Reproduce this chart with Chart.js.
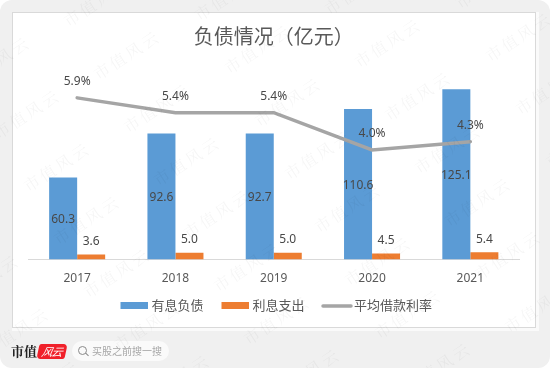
<!DOCTYPE html>
<html>
<head>
<meta charset="utf-8">
<script src="https://cdn.jsdelivr.net/npm/chart.js@4"></script>
<style>
  html, body { margin: 0; padding: 0; background: #fff; }
  body { width: 550px; height: 368px; overflow: hidden; position: relative; font-family: "Noto Sans CJK SC", sans-serif; }
  #frame { position: absolute; left: 0; top: 0; width: 550px; height: 368px; background: #f0f0f0; border-radius: 12px; }
  #shade { position: absolute; left: 12px; top: 12px; width: 527px; height: 319px; background: #fafafa; }
  #box { position: absolute; left: 12px; top: 12px; width: 522px; height: 314px; background: #fff; border: 1px solid #d9d9d9; }
  canvas { position: absolute; left: 0; top: 0; }
  .brand { position: absolute; left: 11px; top: 341px; font: bold 13px/20px "Noto Serif CJK SC", "Noto Sans CJK SC", serif; color: #222; }
  .logo { position: absolute; left: 38px; top: 344px; width: 28px; height: 15px; background: #f0202a; border-radius: 2px 4px 2px 4px; transform: skewX(-12deg); color: #fff; font: italic 11px/15px "Noto Sans CJK SC", sans-serif; text-align: center; letter-spacing: -1px; }
  .search { position: absolute; left: 72px; top: 341px; width: 97px; height: 20px; background: #fafafa; border-radius: 10px; color: #a6a6a6; font: 10px/20px "Noto Sans CJK SC", sans-serif; }
  .search span { position: absolute; left: 20px; top: 0; white-space: nowrap; }
  .search i { position: absolute; left: 6px; top: 5px; width: 7px; height: 7px; border: 1.3px solid #8a8a8a; border-radius: 50%; }
  .search b { position: absolute; left: 13px; top: 13px; width: 4px; height: 1.3px; background: #8a8a8a; transform: rotate(45deg); }
  #marks { position: absolute; left: 0; top: 0; width: 550px; height: 368px; overflow: hidden; pointer-events: none; }
  #marks span { position: absolute; font: 16px/20px "Noto Serif CJK SC", "Noto Sans CJK SC", serif; letter-spacing: 3px; color: rgba(0,0,0,0.04); transform: rotate(-33deg); white-space: nowrap; }
</style>
</head>
<body>
<div id="frame"></div>
<div id="shade"></div>
<div id="box"></div>
<canvas id="debt" width="550" height="368"></canvas>
<div class="brand">市值</div>
<div class="logo">风云</div>
<div class="search"><i></i><b></b><span>买股之前搜一搜</span></div>
<div id="marks"></div>
<script>
const years = ['2017', '2018', '2019', '2020', '2021'];
const debt = [60.3, 92.6, 92.7, 110.6, 125.1];
const interest = [3.6, 5.0, 5.0, 4.5, 5.4];
const rate = [5.9, 5.36, 5.36, 4.0, 4.3];
const chartTitle = '负债情况（亿元）';
const watermark = '市值风云';

const textColor = '#595959';
const fontFamily = '"Noto Sans", "Noto Sans CJK SC", sans-serif';

// value labels: centred in blue bars, above orange bars and the line
const valueLabels = {
  id: 'valueLabels',
  afterDatasetsDraw(chart) {
    const ctx = chart.ctx;
    ctx.save();
    ctx.fillStyle = '#484848';
    ctx.font = '12px ' + fontFamily;
    ctx.textAlign = 'center';
    ctx.textBaseline = 'middle';
    chart.data.datasets.forEach((ds, i) => {
      chart.getDatasetMeta(i).data.forEach((el, j) => {
        const v = ds.data[j];
        if (i === 0) ctx.fillText(v.toFixed(1), el.x, (el.y + el.base) / 2 + 1.5);
        else if (i === 1) ctx.fillText(v.toFixed(1), el.x, el.y - 13);
        else ctx.fillText(v.toFixed(1) + '%', el.x, el.y - 16.5);
      });
    });
    ctx.restore();
  }
};

// legend is drawn by hand, the built in one can't do a thin line next to flat boxes
const legendRow = {
  id: 'legendRow',
  afterDraw(chart) {
    const ctx = chart.ctx;
    const spots = [120.5, 221.5, 322];
    ctx.save();
    ctx.font = '13px "Noto Sans CJK SC", sans-serif';
    ctx.textBaseline = 'middle';
    chart.data.datasets.forEach((ds, i) => {
      const x = spots[i];
      if (i < 2) {
        ctx.fillStyle = ds.backgroundColor;
        ctx.fillRect(x, 302, 27.5, 7);
      } else {
        ctx.strokeStyle = ds.borderColor;
        ctx.lineWidth = 3.5;
        ctx.lineCap = 'round';
        ctx.beginPath();
        ctx.moveTo(x + 1, 306);
        ctx.lineTo(x + 29, 306);
        ctx.stroke();
      }
      ctx.fillStyle = textColor;
      ctx.fillText(ds.label, x + (i < 2 ? 31 : 32), 305.5);
    });
    ctx.restore();
  }
};

new Chart(document.getElementById('debt'), {
  data: {
    labels: years,
    datasets: [
      { type: 'bar', label: '有息负债', data: debt, backgroundColor: '#5b9bd5', yAxisID: 'y', order: 2, categoryPercentage: 0.57, barPercentage: 1 },
      { type: 'bar', label: '利息支出', data: interest, backgroundColor: '#ed7d31', yAxisID: 'y', order: 2, categoryPercentage: 0.57, barPercentage: 1 },
      { type: 'line', label: '平均借款利率', data: rate, borderColor: '#a5a5a5', borderWidth: 3.5, borderCapStyle: 'round', pointRadius: 0, tension: 0, yAxisID: 'y1', order: 1 }
    ]
  },
  options: {
    responsive: false,
    animation: false,
    layout: { padding: { left: 28, right: 30.5, top: 0, bottom: 0 } },
    plugins: {
      legend: { display: false },
      tooltip: { enabled: false },
      title: {
        display: true,
        text: chartTitle,
        color: textColor,
        font: { family: '"Noto Sans CJK SC", sans-serif', size: 20, weight: 'normal' },
        padding: { top: 24, bottom: 0 }
      }
    },
    scales: {
      x: {
        grid: { display: false, drawTicks: false },
        border: { color: '#d9d9d9', width: 1 },
        ticks: { color: textColor, font: { family: fontFamily, size: 12 }, padding: 12 },
        afterFit(axis) { axis.height = 108.5; }
      },
      y: { display: false, min: 0, max: 155.5 },
      y1: { display: false, min: 0, max: 7.72 }
    }
  },
  plugins: [valueLabels, legendRow]
});

// watermark lattice across the whole picture
const marks = document.getElementById('marks');
for (let r = -3; r < 9; r++) {
  for (let c = -3; c < 7; c++) {
    const span = document.createElement('span');
    span.textContent = watermark;
    const cx = 127 + c * 130.5 + r * 30;
    const cy = 55 - c * 6 + r * 53;
    if (cx < -50 || cx > 600 || cy < -30 || cy > 400) continue;
    span.style.left = (cx - 38) + 'px';
    span.style.top = (cy - 10) + 'px';
    marks.appendChild(span);
  }
}
</script>
</body>
</html>
